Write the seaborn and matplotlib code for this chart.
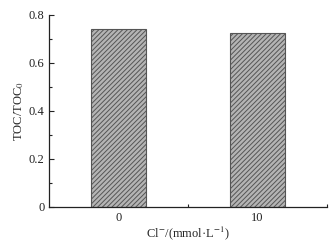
import matplotlib
matplotlib.use('Agg')
import matplotlib.pyplot as plt
import seaborn as sns
import pandas as pd
from matplotlib.ticker import FixedLocator

cl_conc = [0, 10]
toc_ratio = [0.740, 0.723]
ytick_labels = ['0', '0.2', '0.4', '0.6', '0.8']

df = pd.DataFrame({'cl': cl_conc, 'toc': toc_ratio})

sns.set_style('ticks')
plt.rcParams['font.family'] = ['Liberation Serif', 'DejaVu Serif']
plt.rcParams['mathtext.fontset'] = 'stix'
plt.rcParams['hatch.color'] = '#555555'
plt.rcParams['hatch.linewidth'] = 0.7

fig, ax = plt.subplots(figsize=(3.32, 2.49), dpi=100)
sns.barplot(data=df, x='cl', y='toc', native_scale=True, width=0.4,
            color='#b4b4b4', saturation=1, edgecolor='#555555',
            linewidth=0.8, hatch='///////', ax=ax)

ax.set_xlim(-5, 15)
ax.set_ylim(0, 0.8)
ax.set_xticks([0, 10])
ax.xaxis.set_minor_locator(FixedLocator([5, 15]))
ax.set_yticks([0, 0.2, 0.4, 0.6, 0.8])
ax.set_yticklabels(ytick_labels)
ax.yaxis.set_minor_locator(FixedLocator([0.1, 0.3, 0.5, 0.7]))
ax.tick_params(which='both', direction='in', labelsize=9, width=0.8,
               colors='#222222')
ax.tick_params(which='major', length=3.5)
ax.tick_params(which='minor', length=2)
sns.despine(ax=ax)
for s in ['left', 'bottom']:
    ax.spines[s].set_linewidth(0.9)
    ax.spines[s].set_color('#222222')

ax.set_xlabel('Cl$^{-}$/(mmol·L$^{-1}$)', fontsize=9, labelpad=1)
ax.set_ylabel('TOC/TOC$_0$', fontsize=9, labelpad=2)

fig.subplots_adjust(left=0.148, right=0.985, top=0.94, bottom=0.17)
fig.savefig('out.png', dpi=100)
